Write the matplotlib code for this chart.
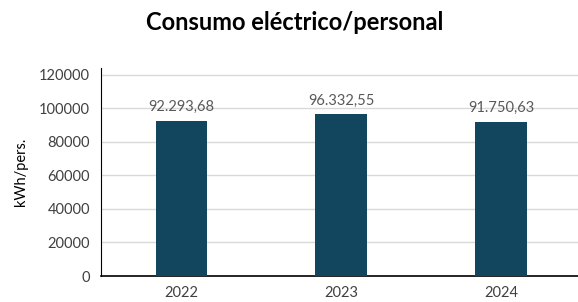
import matplotlib.pyplot as plt

years = ["2022", "2023", "2024"]
consumo = [92293.68, 96332.55, 91750.63]
labels = ["92.293,68", "96.332,55", "91.750,63"]
yticks = [0, 20000, 40000, 60000, 80000, 100000, 120000]

plt.rcParams['font.family'] = ['Lato', 'DejaVu Sans']

fig = plt.figure(figsize=(5.78, 3.02), dpi=100)
ax = fig.add_axes([0.175, 0.086, 0.83, 0.689])

x = range(len(years))
bars = ax.bar(x, consumo, width=0.32, color='#12465f', zorder=3)

for xi, val, lab in zip(x, consumo, labels):
    ax.annotate(lab, (xi, val), xytext=(0, 5), textcoords='offset points',
                ha='center', va='bottom', fontsize=10.5, color='#595959')

ax.set_xlim(-0.5, 2.5)
ax.set_ylim(0, 124000)
ax.set_yticks(yticks)
ax.set_yticklabels([str(t) for t in yticks])
ax.set_xticks(list(x))
ax.set_xticklabels(years)
ax.tick_params(axis='both', length=0, labelsize=10.5, colors='#404040')
ax.tick_params(axis='x', pad=7)
ax.tick_params(axis='y', pad=8)
ax.yaxis.grid(True, color='#d9d9d9', linewidth=1, zorder=0)
ax.set_axisbelow(True)

for side in ['top', 'right']:
    ax.spines[side].set_visible(False)
ax.spines['left'].set_color('black')
ax.spines['bottom'].set_color('black')
ax.spines['bottom'].set_linewidth(1.2)

ax.set_ylabel("kWh/pers.", fontsize=10.5, color='black', labelpad=8)
fig.text(0.51, 0.925, "Consumo eléctrico/personal", ha='center', va='center',
         fontsize=17, fontweight='bold')

fig.savefig("out.png", dpi=100)
